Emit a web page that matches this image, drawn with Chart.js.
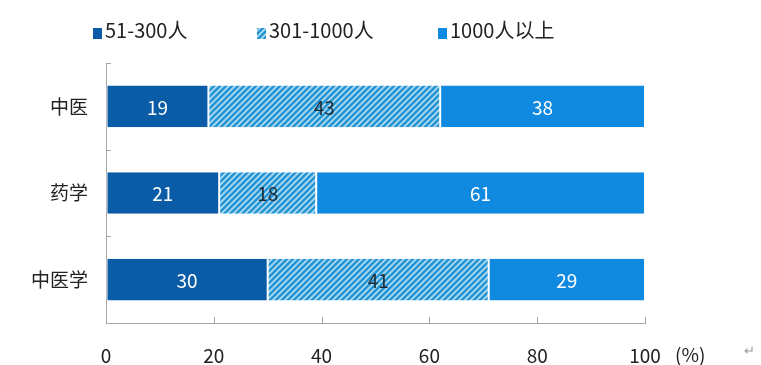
<!DOCTYPE html>
<html>
<head>
<meta charset="utf-8">
<script src="https://cdn.jsdelivr.net/npm/chart.js@4/dist/chart.umd.min.js"></script>
<style>
  html, body { margin: 0; padding: 0; background: #fff; }
  #wrap { position: relative; width: 761px; height: 365px; font-family: "Noto Sans CJK SC", "Open Sans", sans-serif; }
  .lg { position: absolute; top: 16px; font-size: 20px; color: #222; line-height: 28px; white-space: nowrap; }
  .lg i { display: inline-block; width: 9px; height: 11px; margin-right: 3px; vertical-align: -1px; }
  #mark { position: absolute; left: 744px; top: 340px; font-size: 13px; color: #999; }
</style>
</head>
<body>
<div id="wrap">
  <canvas id="chart" width="761" height="365"></canvas>
  <div class="lg" style="left:93px"><i style="background:#0b5ca6"></i>51-300人</div>
  <div class="lg" style="left:257px"><i id="hatchBox"></i>301-1000人</div>
  <div class="lg" style="left:438px"><i style="background:#1089e0"></i>1000人以上</div>
  <div id="mark">↵</div>
</div>
<script>
// Categories (top to bottom) and share of each size band, in %
const categories = ["中医", "药学", "中医学"];
const small = [19, 21, 30];      // 51-300人
const medium = [43, 18, 41];     // 301-1000人
const large = [38, 61, 29];      // 1000人以上
const xTicks = [0, 20, 40, 60, 80, 100];

// Diagonal hatch used for the middle band
function makeHatch() {
  const c = document.createElement("canvas");
  c.width = 6; c.height = 6;
  const g = c.getContext("2d");
  g.fillStyle = "#b0ddf2";
  g.fillRect(0, 0, 6, 6);
  g.strokeStyle = "#2494d4";
  g.lineWidth = 2.6;
  g.beginPath();
  g.moveTo(-1, 7); g.lineTo(7, -1);
  g.moveTo(-4, 4); g.lineTo(4, -4);
  g.moveTo(2, 10); g.lineTo(10, 2);
  g.stroke();
  return c;
}
const hatchCanvas = makeHatch();
const ctx = document.getElementById("chart").getContext("2d");
const hatch = ctx.createPattern(hatchCanvas, "repeat");
document.getElementById("hatchBox").style.background = "url(" + hatchCanvas.toDataURL() + ")";

const FONT = "'Noto Sans CJK SC', 'Open Sans', sans-serif";

// Value labels in the middle of each segment
const segmentLabels = {
  id: "segmentLabels",
  afterDatasetsDraw(chart) {
    const c = chart.ctx;
    c.save();
    c.font = "19px " + FONT;
    c.textAlign = "center";
    c.textBaseline = "middle";
    chart.data.datasets.forEach((ds, di) => {
      chart.getDatasetMeta(di).data.forEach((bar, i) => {
        const p = bar.getProps(["x", "base", "y"], true);
        c.fillStyle = ds.labelColor;
        c.fillText(ds.data[i], (p.x + p.base) / 2, p.y + 1);
      });
    });
    c.restore();
  }
};

// Small inward ticks on both axes, like the original
const innerTicks = {
  id: "innerTicks",
  afterDraw(chart) {
    const c = chart.ctx;
    const xs = chart.scales.x, ys = chart.scales.y;
    const area = chart.chartArea;
    c.save();
    c.strokeStyle = "#a6a6a6";
    c.lineWidth = 1;
    c.beginPath();
    xTicks.slice(1).forEach(v => {
      const px = Math.round(xs.getPixelForValue(v)) + 0.5;
      c.moveTo(px, area.bottom); c.lineTo(px, area.bottom - 6);
    });
    const step = ys.getPixelForValue(1) - ys.getPixelForValue(0);
    for (let i = 0; i < categories.length; i++) {
      const py = Math.round(ys.getPixelForValue(i) - step / 2) + 0.5;
      c.moveTo(area.left, py); c.lineTo(area.left + 5, py);
    }
    c.stroke();
    // (%) unit after the last tick label
    c.fillStyle = "#222";
    c.font = "19px " + FONT;
    c.textBaseline = "middle";
    c.fillText("(%)", xs.getPixelForValue(100) + 30, 355);
    c.restore();
  }
};

new Chart(ctx, {
  type: "bar",
  data: {
    labels: categories,
    datasets: [
      { label: "51-300人", data: small, backgroundColor: "#0b5ca6", labelColor: "#ffffff" },
      { label: "301-1000人", data: medium, backgroundColor: hatch, labelColor: "#1b2a33" },
      { label: "1000人以上", data: large, backgroundColor: "#1089e0", labelColor: "#ffffff" }
    ].map(ds => Object.assign(ds, {
      borderColor: "#ffffff",
      borderWidth: { left: 1, right: 1, top: 0, bottom: 0 },
      borderSkipped: false,
      barPercentage: 0.48,
      categoryPercentage: 1
    }))
  },
  options: {
    responsive: false,
    animation: false,
    indexAxis: "y",
    layout: { padding: { top: 63, right: 116, left: 0, bottom: 0 } },
    scales: {
      x: {
        stacked: true,
        min: 0,
        max: 100,
        afterBuildTicks: s => { s.ticks = xTicks.map(v => ({ value: v })); },
        grid: { drawOnChartArea: false, drawTicks: false },
        border: { color: "#a6a6a6" },
        ticks: { padding: 21, color: "#222", font: { family: FONT, size: 19 } },
        afterFit: s => { s.height = 42; }
      },
      y: {
        stacked: true,
        grid: { drawOnChartArea: false, drawTicks: false },
        border: { color: "#a6a6a6" },
        ticks: { padding: 18, color: "#222", font: { family: FONT, size: 19 } },
        afterFit: s => { s.width = 106; }
      }
    },
    plugins: {
      legend: { display: false },
      tooltip: { enabled: false }
    }
  },
  plugins: [segmentLabels, innerTicks]
});
</script>
</body>
</html>
